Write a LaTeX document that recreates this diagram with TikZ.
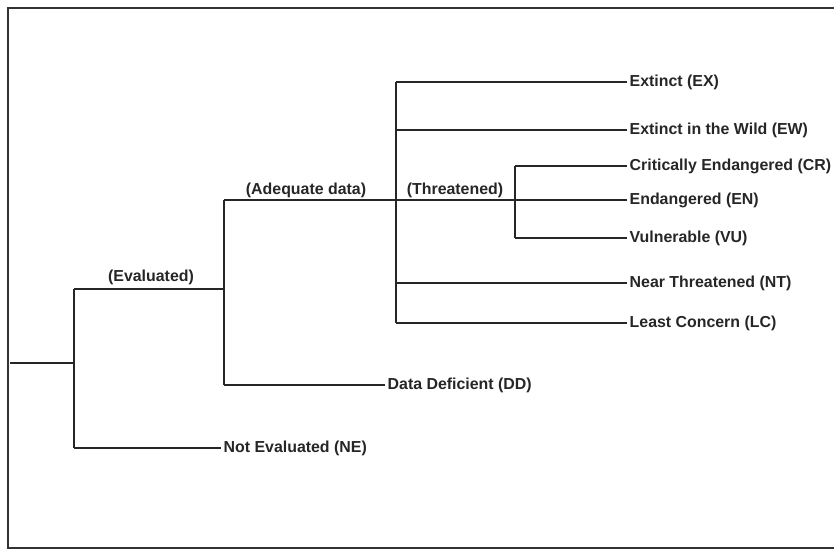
\documentclass[tikz,border=0pt]{standalone}
\usepackage{fontspec}
\setmainfont{Liberation Sans}
\begin{document}
\begin{tikzpicture}[x=1pt,y=-1pt,
  branch/.style={draw=black!85, line width=1.2pt},
  leaf/.style={anchor=west, inner xsep=2.5pt, inner ysep=0pt, font=\bfseries\fontsize{15.9}{18}\selectfont, text=black!85},
  tag/.style={inner sep=0pt, font=\bfseries\fontsize{15.9}{18}\selectfont, text=black!85}]
\useasboundingbox (0,0) rectangle (834,550);
\draw[black!80, line width=2pt] (836,8) -- (8,8) -- (8,548) -- (836,548);
% junctions
\coordinate (root) at (10,363);
\coordinate (j1) at (74,363);
\coordinate (j1t) at (74,289);
\coordinate (j1b) at (74,448);
\coordinate (j2) at (224,289);
\coordinate (j2t) at (224,200);
\coordinate (j2b) at (224,385);
\coordinate (j3) at (396,200);
\coordinate (j3t) at (396,82);
\coordinate (j3b) at (396,323);
\coordinate (j3ew) at (396,130);
\coordinate (j3nt) at (396,283);
\coordinate (j4) at (515,200);
\coordinate (j4t) at (515,166);
\coordinate (j4b) at (515,238);
% leaves
\node[leaf] (ex) at (627,82) {Extinct (EX)};
\node[leaf] (ew) at (627,130) {Extinct in the Wild (EW)};
\node[leaf] (cr) at (627,166) {Critically Endangered (CR)};
\node[leaf] (en) at (627,200) {Endangered (EN)};
\node[leaf] (vu) at (627,238) {Vulnerable (VU)};
\node[leaf] (nt) at (627,283) {Near Threatened (NT)};
\node[leaf] (lc) at (627,323) {Least Concern (LC)};
\node[leaf] (dd) at (385,385) {Data Deficient (DD)};
\node[leaf] (ne) at (221,448) {Not Evaluated (NE)};
% branch labels
\node[tag] (lev) at (151,277) {(Evaluated)};
\node[tag] (lad) at (306,190) {(Adequate data)};
\node[tag] (lth) at (455,190) {(Threatened)};
% connectors
\draw[branch] (root) -- (j1);
\draw[branch] (j1t) -- (j1b);
\draw[branch] (j1t) -- (j2);
\draw[branch] (j1b) -- (ne.west);
\draw[branch] (j2t) -- (j2b);
\draw[branch] (j2b) -- (dd.west);
\draw[branch] (j2t) -- (en.west);
\draw[branch] (j3t) -- (j3b);
\draw[branch] (j3t) -- (ex.west);
\draw[branch] (j3ew) -- (ew.west);
\draw[branch] (j3nt) -- (nt.west);
\draw[branch] (j3b) -- (lc.west);
\draw[branch] (j4t) -- (j4b);
\draw[branch] (j4t) -- (cr.west);
\draw[branch] (j4b) -- (vu.west);
\end{tikzpicture}
\end{document}
